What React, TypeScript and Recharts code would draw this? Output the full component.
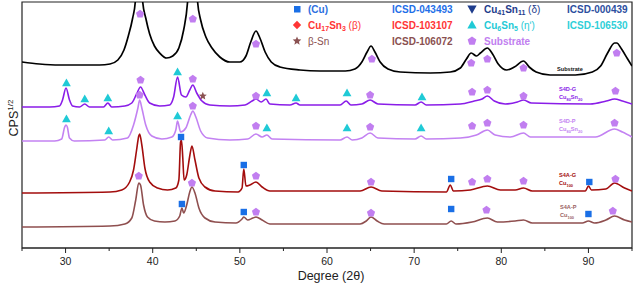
import React from 'react';
import { ComposedChart, Line, Scatter, XAxis, YAxis, ReferenceArea } from 'recharts';

// ---------- axes ----------
const xDomain: [number, number] = [25, 95];
const yDomain: [number, number] = [0, 246];
const xTicks = [25, 30, 35, 40, 45, 50, 55, 60, 65, 70, 75, 80, 85, 90, 95];

// ---------- XRD traces: [2theta, sqrt(CPS) with vertical offset] ----------
const substrate: [number, number][] = [
  [25.0, 186], [27.0, 184], [29.3, 183], [31.6, 183], [33.9, 183], [35.1, 184], [36.0, 188], [36.7, 198],
  [37.2, 212], [37.7, 230], [38.0, 246], [38.45, 345], [38.85, 246], [39.2, 230], [39.65, 214], [40.2, 202],
  [40.8, 195], [41.6, 190], [42.3, 192], [43.0, 200], [43.55, 218], [44.0, 246], [44.6, 355], [45.15, 246],
  [45.5, 228], [46.1, 211], [46.8, 200], [47.7, 191], [48.85, 186], [50.0, 186], [50.7, 192], [51.25, 206],
  [51.85, 217], [52.3, 210], [52.9, 196], [53.6, 186], [54.6, 181], [56.9, 178], [59.2, 177], [62.1, 177],
  [63.2, 179], [64.0, 186], [64.6, 196], [65.05, 202], [65.5, 196], [66.1, 186], [67.0, 179], [68.4, 176],
  [71.85, 175], [74.15, 176], [75.3, 180], [76.0, 189], [76.55, 195], [77.15, 192], [77.6, 195], [78.4, 200],
  [79.0, 194], [79.65, 184], [80.6, 178], [81.5, 181], [82.55, 187], [83.2, 181], [84.0, 176], [85.6, 173],
  [88.5, 173], [90.45, 176], [91.4, 182], [92.2, 195], [93.0, 205], [93.25, 205], [93.8, 199], [94.5, 189],
  [95.0, 182],
];

const s4dG: [number, number][] = [
  [25.0, 141], [28.2, 141], [29.3, 142], [29.65, 148], [30.05, 160], [30.45, 148], [30.8, 142], [31.6, 141],
  [32.2, 144], [32.75, 141], [34.35, 141], [34.85, 145], [35.3, 141], [36.8, 142], [37.6, 145], [38.15, 154],
  [38.6, 161], [39.1, 153], [39.65, 145], [40.8, 142], [41.95, 143], [42.4, 151], [42.85, 171], [43.3, 153],
  [43.8, 151], [44.25, 158], [44.6, 163], [45.05, 155], [45.65, 147], [46.55, 143], [48.85, 142], [50.6, 143],
  [51.4, 147], [51.85, 149], [52.45, 146], [53.0, 149], [53.45, 144], [55.75, 143], [56.45, 145], [56.9, 143],
  [61.5, 143], [62.2, 147], [62.75, 143], [64.0, 144], [64.95, 148], [65.85, 144], [70.1, 143], [70.8, 146],
  [71.4, 143], [75.3, 144], [76.9, 147], [77.8, 149], [78.4, 152], [79.2, 147], [80.45, 144], [81.85, 146],
  [82.55, 148], [83.45, 145], [90.2, 144], [92.05, 147], [93.0, 149], [93.9, 147], [95.0, 144],
];

const s4dP: [number, number][] = [
  [25.0, 107], [28.75, 107], [29.55, 109], [29.9, 121], [30.05, 123], [30.2, 121], [30.45, 110], [31.0, 107],
  [34.5, 108], [34.95, 111], [35.4, 108], [37.1, 110], [37.8, 123], [38.3, 140], [38.5, 148], [38.75, 140],
  [39.2, 123], [39.9, 112], [41.05, 109], [42.2, 111], [42.65, 118], [42.85, 127], [43.2, 116], [43.8, 120],
  [44.35, 133], [44.6, 137], [44.95, 131], [45.5, 117], [46.3, 110], [48.85, 108], [50.9, 109], [51.85, 114],
  [52.55, 111], [53.1, 113], [53.7, 109], [61.5, 108], [62.3, 111], [62.9, 108], [64.0, 110], [64.95, 115],
  [65.85, 110], [70.1, 109], [70.8, 112], [71.4, 109], [75.3, 110], [77.15, 113], [78.4, 118], [79.3, 113],
  [81.05, 111], [82.55, 115], [83.35, 111], [90.8, 111], [93.0, 119], [93.9, 116], [95.0, 111],
];

const s4aG: [number, number][] = [
  [25.0, 55], [35.1, 56], [36.45, 58], [37.35, 66], [37.8, 78], [38.15, 98], [38.4, 112], [38.5, 114],
  [38.75, 103], [39.1, 80], [39.65, 66], [40.55, 60], [41.7, 58], [42.65, 60], [43.0, 68], [43.2, 106],
  [43.3, 108], [43.45, 90], [43.6, 68], [43.9, 73], [44.25, 92], [44.5, 102], [44.85, 88], [45.3, 70],
  [46.0, 61], [47.15, 57], [49.8, 56], [50.25, 60], [50.45, 79], [50.7, 62], [51.15, 63], [51.85, 66],
  [52.55, 61], [53.45, 57], [63.8, 57], [65.05, 61], [66.3, 57], [73.7, 56], [74.15, 63], [74.5, 57],
  [76.45, 58], [78.4, 62], [79.9, 58], [81.6, 58], [82.55, 60], [83.55, 57], [89.65, 57], [90.0, 62],
  [90.35, 58], [92.0, 59], [93.0, 65], [94.15, 60], [95.0, 57],
];

const s4aP: [number, number][] = [
  [25.0, 21], [35.1, 22], [36.8, 24], [37.6, 30], [38.05, 48], [38.4, 65], [38.6, 63], [38.95, 43],
  [39.4, 31], [40.2, 27], [41.4, 26], [42.55, 27], [43.1, 32], [43.35, 40], [43.55, 35], [43.9, 43],
  [44.25, 56], [44.5, 61], [44.85, 55], [45.3, 40], [46.0, 30], [47.15, 26], [49.55, 25], [50.25, 29],
  [50.45, 31], [50.9, 28], [51.5, 30], [51.85, 31], [52.55, 28], [53.45, 24], [63.8, 24], [64.5, 27],
  [65.05, 31], [65.75, 27], [66.55, 24], [73.7, 24], [74.25, 27], [74.8, 24], [76.65, 26], [78.4, 30],
  [79.55, 26], [81.6, 27], [82.55, 28], [83.55, 25], [89.3, 25], [90.0, 27], [90.7, 25], [92.0, 28],
  [93.0, 32], [94.15, 28], [95.0, 26],
];

// ---------- phase markers: [2theta, height] ----------
const substrateMarks: [number, number][] = [
  [38.55, 234], [44.6, 229], [51.85, 204], [65.15, 189], [76.55, 185], [78.4, 189], [82.55, 180], [93.25, 195],
  [38.6, 168], [44.6, 169], [51.85, 152], [64.95, 153], [76.65, 156], [78.4, 158], [82.55, 152], [93.1, 157],
  [38.5, 153], [44.6, 142], [51.85, 122], [64.95, 121], [76.65, 122], [78.4, 125], [82.55, 123], [93.0, 125],
  [51.85, 72], [65.05, 66], [76.65, 66], [78.4, 69], [82.55, 67], [93.1, 69],
  [38.4, 72], [44.5, 65], [51.85, 36], [65.05, 35], [78.3, 38], [92.8, 37],
];
const cu6sn5Marks: [number, number][] = [
  [30.1, 165], [32.2, 149], [34.85, 150], [42.85, 176], [53.1, 155], [56.45, 150], [62.3, 155], [70.9, 151],
  [30.1, 129], [34.95, 117], [42.85, 132], [53.1, 120], [62.3, 120], [70.8, 120],
];
const cuMarks: [number, number][] = [
  [43.25, 111], [50.45, 83], [74.25, 69], [90.1, 66],
  [43.35, 44], [50.45, 36], [74.25, 39], [90.0, 34],
];
const betaSnMarks: [number, number][] = [[45.75, 152]];

// ---------- colours ----------
const C_SUB = '#000000';
const C_DG = '#8a1de8';
const C_DP = '#c382f2';
const C_AG = '#a30d0d';
const C_AP = '#8f4f4f';
const C_PENT = '#c17ef0';
const C_SQ = '#1a6fe6';
const C_TRI = '#1fcad6';
const C_STAR = '#8b5252';
const C_RED = '#ff3535';
const C_DELTA = '#1e3c8c';

const FONT = "Arial, 'Liberation Sans', sans-serif";

const toPts = (a: [number, number][]) => a.map(([x, y]) => ({ x, y }));

const pentPath = (cx: number, cy: number, r: number) => {
  const p: string[] = [];
  for (let k = 0; k < 5; k++) {
    const a = (-90 + k * 72) * Math.PI / 180;
    p.push(`${(cx + r * Math.cos(a)).toFixed(2)},${(cy + r * Math.sin(a)).toFixed(2)}`);
  }
  return 'M' + p.join('L') + 'Z';
};
const starPath = (cx: number, cy: number, r: number) => {
  const p: string[] = [];
  for (let k = 0; k < 10; k++) {
    const rr = k % 2 === 0 ? r : r * 0.45;
    const a = (-90 + k * 36) * Math.PI / 180;
    p.push(`${(cx + rr * Math.cos(a)).toFixed(2)},${(cy + rr * Math.sin(a)).toFixed(2)}`);
  }
  return 'M' + p.join('L') + 'Z';
};
const triUp = (cx: number, cy: number, s: number) =>
  `M${cx},${cy - s * 0.55}L${cx + s * 0.55},${cy + s * 0.4}L${cx - s * 0.55},${cy + s * 0.4}Z`;
const triDown = (cx: number, cy: number, s: number) =>
  `M${cx},${cy + s * 0.55}L${cx + s * 0.55},${cy - s * 0.4}L${cx - s * 0.55},${cy - s * 0.4}Z`;
const diamond = (cx: number, cy: number, s: number) =>
  `M${cx},${cy - s}L${cx + s},${cy}L${cx},${cy + s}L${cx - s},${cy}Z`;

const PentShape = (p: any) => <path d={pentPath(p.cx, p.cy, 4.3)} fill={C_PENT} />;
const SqShape = (p: any) => <rect x={p.cx - 3.2} y={p.cy - 3.2} width={6.4} height={6.4} fill={C_SQ} />;
const TriShape = (p: any) => <path d={triUp(p.cx, p.cy, 8)} fill={C_TRI} />;
const StarShape = (p: any) => <path d={starPath(p.cx, p.cy, 4.2)} fill={C_STAR} />;

const renderTick = (props: any) => {
  const { x, y, payload } = props;
  const v = payload.value as number;
  const major = v % 10 === 0;
  return (
    <g>
      <line x1={x} x2={x} y1={y} y2={y + (major ? 5 : 3)} stroke="#222" strokeWidth={1} />
      {major && (
        <text x={x} y={y + 17} textAnchor="middle" fontSize={10.5} fill="#222" fontFamily={FONT}>{v}</text>
      )}
    </g>
  );
};

// parts: { t, sub?, n? } ; subscripts shift down, following normal parts shift back up
const richSpans = (parts: any[], fs: number) => {
  const shift = fs * 0.28;
  let down = false;
  return parts.map((p: any, i: number) => {
    if (p.sub) {
      const el = (
        <tspan key={i} dy={down ? 0 : shift} fontSize={fs * 0.7}>{p.t}</tspan>
      );
      down = true;
      return el;
    }
    const el = (
      <tspan key={i} dy={down ? -shift : 0} fontWeight={p.n ? 'normal' : 'bold'}>{p.t}</tspan>
    );
    down = false;
    return el;
  });
};

const SampleLabel = ({ x, y, name, comp, color }: any) => (
  <g fontFamily={FONT} fontWeight="bold" fill={color}>
    <text x={x} y={y} fontSize={5.6}>{name}</text>
    <text x={x} y={y + 8} fontSize={5.6}>{richSpans(comp, 5.6)}</text>
  </g>
);

const LegendRow = ({ y, sym, parts, code, color, codeColor, xs }: any) => (
  <g fontFamily={FONT} fontWeight="bold" fontSize={10}>
    {sym}
    <text x={xs[1]} y={y + 3.6} fill={color}>{richSpans(parts, 10)}</text>
    {code ? <text x={xs[2]} y={y + 3.6} fill={codeColor}>{code}</text> : null}
  </g>
);

export default function App() {
  return (
    <div style={{ position: 'absolute', left: 0, top: 0, width: 637, height: 283, background: '#fff' }}>
      <ComposedChart width={637} height={283} margin={{ top: 2, right: 5, bottom: 5, left: 22 }}>
        <XAxis dataKey="x" type="number" domain={xDomain} ticks={xTicks} allowDataOverflow
          height={30} tickSize={0} tickMargin={0} tickLine={false} axisLine={{ stroke: '#222' }}
          tick={renderTick} interval={0} />
        <YAxis type="number" domain={yDomain} allowDataOverflow hide />
        <ReferenceArea x1={25} x2={95} y1={0} y2={246} fill="none" stroke="#222" strokeWidth={1.2} ifOverflow="visible" />
        <Line data={toPts(s4aP)} dataKey="y" type="monotone" stroke={C_AP} strokeWidth={1.6} dot={false} activeDot={false} isAnimationActive={false} />
        <Line data={toPts(s4aG)} dataKey="y" type="monotone" stroke={C_AG} strokeWidth={1.6} dot={false} activeDot={false} isAnimationActive={false} />
        <Line data={toPts(s4dP)} dataKey="y" type="monotone" stroke={C_DP} strokeWidth={1.6} dot={false} activeDot={false} isAnimationActive={false} />
        <Line data={toPts(s4dG)} dataKey="y" type="monotone" stroke={C_DG} strokeWidth={1.6} dot={false} activeDot={false} isAnimationActive={false} />
        <Line data={toPts(substrate)} dataKey="y" type="monotone" stroke={C_SUB} strokeWidth={1.7} dot={false} activeDot={false} isAnimationActive={false} />
        <Scatter data={toPts(substrateMarks)} dataKey="y" shape={PentShape} isAnimationActive={false} />
        <Scatter data={toPts(cu6sn5Marks)} dataKey="y" shape={TriShape} isAnimationActive={false} />
        <Scatter data={toPts(cuMarks)} dataKey="y" shape={SqShape} isAnimationActive={false} />
        <Scatter data={toPts(betaSnMarks)} dataKey="y" shape={StarShape} isAnimationActive={false} />
      </ComposedChart>
      <svg width={637} height={283} style={{ position: 'absolute', left: 0, top: 0, pointerEvents: 'none' }}>
        {/* legend */}
        <LegendRow y={9} xs={[297, 308, 392]} color="#2c6fe0" codeColor="#1f6fe8"
          sym={<rect x={294} y={6} width={6.5} height={6.5} fill={C_SQ} />}
          parts={[{ t: '(Cu)' }]} code="ICSD-043493" />
        <LegendRow y={25} xs={[297, 308, 392]} color={C_RED} codeColor={C_RED}
          sym={<path d={diamond(297, 25, 4.2)} fill={C_RED} />}
          parts={[{ t: 'Cu' }, { t: '17', sub: true }, { t: 'Sn' }, { t: '3', sub: true }, { t: ' (β)', n: true }]} code="ICSD-103107" />
        <LegendRow y={41} xs={[297, 308, 392]} color="#8a5050" codeColor="#8a5050"
          sym={<path d={starPath(297, 41, 4.5)} fill={C_STAR} />}
          parts={[{ t: 'β-Sn', n: true }]} code="ICSD-106072" />
        <LegendRow y={9} xs={[472, 484, 567]} color={C_DELTA} codeColor="#2d4fa0"
          sym={<path d={triDown(472, 9, 8.5)} fill={C_DELTA} />}
          parts={[{ t: 'Cu' }, { t: '41', sub: true }, { t: 'Sn' }, { t: '11', sub: true }, { t: ' (δ)', n: true }]} code="ICSD-000439" />
        <LegendRow y={25} xs={[472, 484, 567]} color={C_TRI} codeColor="#2fcfd8"
          sym={<path d={triUp(472, 25, 8.5)} fill={C_TRI} />}
          parts={[{ t: 'Cu' }, { t: '6', sub: true }, { t: 'Sn' }, { t: '5', sub: true }, { t: ' (η\u02b9)', n: true }]} code="ICSD-106530" />
        <LegendRow y={41} xs={[472, 484, 567]} color={C_PENT} codeColor={C_PENT}
          sym={<path d={pentPath(472, 41, 4.6)} fill={C_PENT} />}
          parts={[{ t: 'Substrate' }]} code="" />

        {/* sample labels */}
        <text x={557} y={71} fontSize={5.6} fontWeight="bold" fill="#111" fontFamily={FONT}>Substrate</text>
        <SampleLabel x={559} y={91} name="S4D-G" comp={[{ t: 'Cu' }, { t: '80', sub: true }, { t: 'Sn' }, { t: '20', sub: true }]} color={C_DG} />
        <SampleLabel x={559} y={123} name="S4D-P" comp={[{ t: 'Cu' }, { t: '80', sub: true }, { t: 'Sn' }, { t: '20', sub: true }]} color={C_DP} />
        <SampleLabel x={559} y={177} name="S4A-G" comp={[{ t: 'Cu' }, { t: '100', sub: true }]} color={C_AG} />
        <SampleLabel x={560} y={209} name="S4A-P" comp={[{ t: 'Cu' }, { t: '100', sub: true }]} color="#9a6262" />

        {/* axis titles */}
        <text x={331} y={279.5} textAnchor="middle" fontSize={12.5} fill="#222" fontFamily={FONT}>Degree (2θ)</text>
        <g transform="translate(17.5,118) rotate(-90)">
          <text x={0} y={0} textAnchor="middle" fontSize={12.5} fill="#222" fontFamily={FONT}>
            CPS<tspan dy={-5} fontSize={8}>1/2</tspan>
          </text>
        </g>
      </svg>
    </div>
  );
}
